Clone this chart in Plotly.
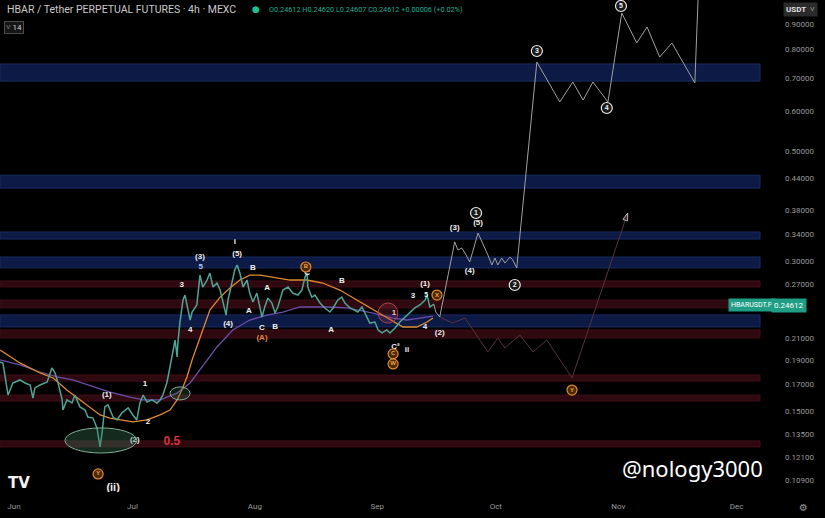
import numpy as np
import pandas as pd
import plotly.graph_objects as go

START = pd.Timestamp("2025-06-01")  # day 0 of the day-offset arrays below


def to_dates(days):
    return [START + pd.Timedelta(days=float(d)) for d in days]


# ---------------- data (day offsets from 2025-06-01, prices in USDT) ----------------
price_days = [-3.5, -2.8, -1.5, -0.3, 1.5, 2.8, 4.1, 4.8, 5.3, 6.6, 8.4, 9.6, 10.4, 11.1, 12.2, 12.4, 13.4, 14.7,
              15.4, 16.7, 18.0, 18.7, 20.0, 21.0, 21.8, 22.3, 23.0, 23.8, 25.1, 26.1, 27.3, 28.9, 30.1, 31.1, 31.9,
              32.7, 33.7, 34.9, 36.2, 37.0, 37.7, 38.7, 39.5, 40.3, 40.8, 41.3, 41.5, 42.0, 42.8, 43.3, 44.1, 44.6,
              45.1, 46.3, 47.1, 47.8, 48.9, 49.6, 50.4, 51.4, 52.2, 52.9, 53.7, 54.2, 55.2, 55.9, 56.5, 57.2, 58.0,
              59.0, 59.7, 60.5, 61.5, 62.8, 63.5, 64.3, 65.3, 66.1, 66.8, 68.1, 69.4, 70.6, 71.9, 72.9, 73.7, 74.2,
              74.4, 75.4, 76.2, 77.5, 78.7, 80.0, 80.8, 82.0, 83.0, 83.8, 85.1, 86.3, 87.1, 88.1, 89.4, 90.1, 91.4,
              92.2, 93.2, 94.4, 95.2, 96.5, 97.7, 99.0, 100.3, 101.5, 102.8, 104.1, 104.6, 105.3, 106.3]
price_vals = [0.1883, 0.1874, 0.1615, 0.1708, 0.1732, 0.1708, 0.1692, 0.1593, 0.1669, 0.1692, 0.1716, 0.1831,
              0.1789, 0.1716, 0.1579, 0.1507, 0.1579, 0.1557, 0.1615, 0.1529, 0.1507, 0.1459, 0.1452, 0.1387,
              0.1270, 0.1355, 0.1529, 0.1543, 0.1459, 0.1439, 0.1486, 0.1522, 0.1473, 0.1439, 0.1557, 0.1615,
              0.1564, 0.1579, 0.1557, 0.1579, 0.1615, 0.1708, 0.1839, 0.1990, 0.2084, 0.1927, 0.2055, 0.2254,
              0.2508, 0.2566, 0.2394, 0.2286, 0.2372, 0.2451, 0.2815, 0.2663, 0.2751, 0.2841, 0.2663, 0.2713,
              0.2626, 0.2473, 0.2339, 0.2508, 0.2713, 0.2881, 0.2949, 0.2841, 0.2663, 0.2751, 0.2590, 0.2485,
              0.2590, 0.2318, 0.2428, 0.2530, 0.2473, 0.2361, 0.2428, 0.2626, 0.2663, 0.2590, 0.2566, 0.2626,
              0.2789, 0.2841, 0.2663, 0.2542, 0.2566, 0.2473, 0.2417, 0.2372, 0.2417, 0.2508, 0.2542, 0.2473,
              0.2417, 0.2394, 0.2372, 0.2428, 0.2318, 0.2254, 0.2265, 0.2183, 0.2153, 0.2183, 0.2153, 0.2203,
              0.2265, 0.2318, 0.2372, 0.2417, 0.2451, 0.2508, 0.2566, 0.2428, 0.2461]

ema_days = [-3.5, 1.5, 6.6, 9.9, 13.4, 16.7, 19.2, 21.8, 24.3, 26.8, 30.1, 33.7, 37.0, 39.5, 41.3, 42.5, 43.8,
            45.1, 47.1, 49.6, 52.2, 54.7, 57.2, 59.7, 62.3, 66.6, 69.9, 74.2, 78.2, 82.5, 86.8, 91.9, 95.2, 98.5,
            102.0, 104.6, 106.1]
ema_vals = [0.1990, 0.1874, 0.1789, 0.1748, 0.1653, 0.1579, 0.1522, 0.1473, 0.1452, 0.1439, 0.1426, 0.1439,
            0.1473, 0.1507, 0.1579, 0.1653, 0.1756, 0.1900, 0.2103, 0.2394, 0.2542, 0.2651, 0.2751, 0.2815,
            0.2815, 0.2776, 0.2751, 0.2751, 0.2713, 0.2626, 0.2508, 0.2372, 0.2286, 0.2213, 0.2213, 0.2265, 0.2307]

sma_days = [-3.5, 1.5, 6.6, 10.9, 14.9, 20.0, 24.3, 29.4, 32.7, 37.0, 41.3, 44.6, 47.1, 51.4, 55.4, 59.7, 64.1,
            68.1, 72.4, 79.2, 84.3, 90.9, 95.9, 99.5, 102.8, 106.1]
sma_vals = [0.1900, 0.1857, 0.1797, 0.1756, 0.1732, 0.1677, 0.1638, 0.1600, 0.1579, 0.1579, 0.1630, 0.1708,
            0.1814, 0.2018, 0.2183, 0.2286, 0.2339, 0.2372, 0.2428, 0.2428, 0.2417, 0.2361, 0.2307, 0.2286,
            0.2307, 0.2328]

bull_days = [106.3, 106.8, 107.8, 111.6, 112.4, 113.4, 114.2, 115.4, 117.5, 118.7, 120.0, 121.0, 121.8, 122.5,
             123.5, 124.3, 125.6, 126.3, 127.3, 132.4, 138.2, 141.5, 144.1, 146.6, 150.4, 153.9, 157.7, 160.3,
             163.5, 166.6, 172.4, 173.4]
bull_vals = [0.2461, 0.2372, 0.2318, 0.3281, 0.3161, 0.3190, 0.3117, 0.2990, 0.3420, 0.3265, 0.3089, 0.2949,
             0.3046, 0.2949, 0.3046, 0.2976, 0.3060, 0.3018, 0.2908, 0.7549, 0.6272, 0.6881, 0.6330, 0.6881,
             0.6272, 0.9470, 0.8243, 0.8876, 0.7725, 0.8243, 0.6849, 1.1030]

bear_days = [107.8, 111.1, 114.2, 120.0, 122.5, 124.3, 128.1, 131.4, 134.9, 141.3, 155.4]
bear_vals = [0.2318, 0.2254, 0.2307, 0.1972, 0.2104, 0.2008, 0.2133, 0.1972, 0.2084, 0.1748, 0.3752]

# support / resistance zones
blue_lo = [0.691, 0.421, 0.3326, 0.291, 0.2214]
blue_hi = [0.748, 0.447, 0.3436, 0.306, 0.234]
red_lo = [0.2664, 0.2417, 0.2103, 0.1723, 0.1571, 0.1270]
red_hi = [0.2739, 0.2508, 0.2183, 0.1772, 0.1615, 0.1306]

# wave labels
wl_text = ["(1)", "1", "2", "(2)", "3", "4", "(3)", "(4)", "i", "(5)", "B", "A", "A", "C", "B", "C", "B", "A",
           "1", "3", "(1)", "4", "(2)", "C²", "ii", "(3)", "(5)", "(4)"]
wl_day = [23.5, 33.2, 33.9, 30.6, 42.5, 44.6, 47.1, 54.2, 55.9, 56.5, 60.5, 64.1, 59.5, 62.8, 66.1, 74.2, 83.0,
          80.3, 96.2, 101.0, 104.1, 104.1, 107.8, 96.6, 99.5, 111.6, 117.5, 115.4]
wl_price = [0.1615, 0.1700, 0.1426, 0.1312, 0.2688, 0.2183, 0.3060, 0.2244, 0.3281, 0.3103, 0.2908, 0.2651,
            0.2383, 0.2203, 0.2213, 0.2841, 0.2738, 0.2183, 0.2361, 0.2554, 0.2700, 0.2213, 0.2153, 0.2016,
            0.1990, 0.3500, 0.3582, 0.2868]

small5_day = [104.4]
small5_price = [0.2562]

blue5_day = [47.3]
blue5_price = [0.2922]

ii_day = [25.1]
ii_price = [0.1050]

circ_text = ["1", "2", "3", "4", "5"]
circ_day = [117.0, 126.8, 132.4, 150.1, 153.7]
circ_price = [0.3752, 0.2688, 0.7942, 0.6100, 0.9782]

ocirc_text = ["Y", "B", "X", "C", "W", "Y"]
ocirc_day = [21.3, 73.9, 107.1, 96.0, 96.0, 141.3]
ocirc_price = [0.1121, 0.2922, 0.2566, 0.1954, 0.1865, 0.1653]

otext_day = [62.8]
otext_price = [0.2103]

half_day = [40.0]
half_price = [0.1300]

# ellipse marks (day0, day1, price0, price1)
ell_green = [12.9, 31.1, 0.1235, 0.1387]
ell_small = [39.5, 44.6, 0.1579, 0.1677]
ell_red = [92.2, 97.2, 0.2254, 0.2473]

y_ticks = [0.9, 0.8, 0.7, 0.6, 0.5, 0.44, 0.38, 0.34, 0.30, 0.27, 0.21, 0.19, 0.17, 0.15, 0.135, 0.121, 0.109]
month_ticks = ["2025-06-01", "2025-07-01", "2025-08-01", "2025-09-01", "2025-10-01", "2025-11-01", "2025-12-01"]
month_text = ["Jun", "Jul", "Aug", "Sep", "Oct", "Nov", "Dec"]
last_price = 0.24612

# ---------------- figure ----------------
fig = go.Figure()

shapes = []
for lo, hi in zip(blue_lo, blue_hi):
    shapes.append(dict(type="rect", xref="paper", yref="y", x0=0, x1=1, y0=lo, y1=hi,
                       fillcolor="#0d1a45", line=dict(color="#1a2b63", width=1), layer="below"))
for lo, hi in zip(red_lo, red_hi):
    shapes.append(dict(type="rect", xref="paper", yref="y", x0=0, x1=1, y0=lo, y1=hi,
                       fillcolor="#2e0910", line=dict(color="#3f0e17", width=1), layer="below"))

d = to_dates
shapes.append(dict(type="circle", xref="x", yref="y", x0=d([ell_green[0]])[0], x1=d([ell_green[1]])[0],
                   y0=ell_green[2], y1=ell_green[3], fillcolor="rgba(60,120,90,0.35)",
                   line=dict(color="#7fae93", width=1), layer="above"))
shapes.append(dict(type="circle", xref="x", yref="y", x0=d([ell_small[0]])[0], x1=d([ell_small[1]])[0],
                   y0=ell_small[2], y1=ell_small[3], fillcolor="rgba(60,120,90,0.25)",
                   line=dict(color="#7fae93", width=1), layer="above"))
shapes.append(dict(type="circle", xref="x", yref="y", x0=d([ell_red[0]])[0], x1=d([ell_red[1]])[0],
                   y0=ell_red[2], y1=ell_red[3], fillcolor="rgba(170,50,70,0.25)",
                   line=dict(color="#a8404f", width=1), layer="above"))

fig.add_trace(go.Scatter(x=d(sma_days), y=sma_vals, mode="lines", line=dict(color="#6a4ea8", width=1.3),
                         hoverinfo="skip"))
fig.add_trace(go.Scatter(x=d(ema_days), y=ema_vals, mode="lines", line=dict(color="#e08a30", width=1.3),
                         hoverinfo="skip"))
fig.add_trace(go.Scatter(x=d(price_days), y=price_vals, mode="lines", line=dict(color="#4ea596", width=1.5),
                         hoverinfo="skip"))
fig.add_trace(go.Scatter(x=d(bear_days), y=bear_vals, mode="lines+markers",
                         line=dict(color="#553340", width=1),
                         marker=dict(symbol="arrow", angleref="previous", color="#553340",
                                     size=[0] * (len(bear_days) - 1) + [8]),
                         hoverinfo="skip"))
fig.add_trace(go.Scatter(x=d(bull_days), y=bull_vals, mode="lines", line=dict(color="#a0a0a0", width=1),
                         hoverinfo="skip"))

lab_font = dict(family="Liberation Sans, Arial", size=8, color="#f0f0f0", weight="bold")
fig.add_trace(go.Scatter(x=d(wl_day), y=wl_price, mode="text", text=wl_text, textposition="middle center",
                         textfont=lab_font, hoverinfo="skip", cliponaxis=False))
fig.add_trace(go.Scatter(x=d(small5_day), y=small5_price, mode="text", text=["5"], textposition="middle center",
                         textfont=dict(family="Liberation Sans, Arial", size=7, color="#f0f0f0", weight="bold"),
                         hoverinfo="skip"))
fig.add_trace(go.Scatter(x=d(blue5_day), y=blue5_price, mode="text", text=["5"], textposition="middle center",
                         textfont=dict(family="Liberation Sans, Arial", size=8, color="#a9c6ef", weight="bold"),
                         hoverinfo="skip"))
fig.add_trace(go.Scatter(x=d(ii_day), y=ii_price, mode="text", text=["(ii)"], textposition="middle center",
                         textfont=dict(family="Liberation Sans, Arial", size=11, color="#f0f0f0", weight="bold"),
                         hoverinfo="skip"))
fig.add_trace(go.Scatter(x=d(circ_day), y=circ_price, mode="markers+text", text=circ_text,
                         textposition="middle center",
                         marker=dict(symbol="circle", size=11, color="#1a1a1a", line=dict(color="#e8e8e8", width=1.2)),
                         textfont=dict(family="Liberation Sans, Arial", size=7, color="#f0f0f0", weight="bold"),
                         hoverinfo="skip", cliponaxis=False))
fig.add_trace(go.Scatter(x=d(ocirc_day), y=ocirc_price, mode="markers+text", text=ocirc_text,
                         textposition="middle center",
                         marker=dict(symbol="circle", size=10, color="#4a2a05", line=dict(color="#e08a30", width=1.2)),
                         textfont=dict(family="Liberation Sans, Arial", size=6, color="#f0a040", weight="bold"),
                         hoverinfo="skip"))
fig.add_trace(go.Scatter(x=d(otext_day), y=otext_price, mode="text", text=["(A)"], textposition="middle center",
                         textfont=dict(family="Liberation Sans, Arial", size=8, color="#e08a30", weight="bold"),
                         hoverinfo="skip"))
fig.add_trace(go.Scatter(x=d(half_day), y=half_price, mode="text", text=["0.5"], textposition="middle center",
                         textfont=dict(family="Liberation Sans, Arial", size=12, color="#d8303c", weight="bold"),
                         hoverinfo="skip"))

W_PLOT, H_PLOT = 760.0, 492.0


def px(xp):
    return xp / W_PLOT


def py(yp):
    return 1 - yp / H_PLOT


annotations = [
    dict(x=px(5), y=py(9), text="HBAR / Tether PERPETUAL FUTURES · 4h · MEXC",
         font=dict(family="Roboto", size=10.5, color="#c9c9c9")),
    dict(x=px(250), y=py(9), text="●", font=dict(family="DejaVu Sans", size=9, color="#1fbf94")),
    dict(x=px(267), y=py(9), text="O0.24612 H0.24620 L0.24607 C0.24612 +0.00006 (+0.02%)",
         font=dict(family="Roboto", size=7.3, color="#22ab94")),
    dict(x=px(4), y=py(27), text="˅ 14", font=dict(family="Roboto", size=8, color="#d0d0d0"),
         bgcolor="#151515", bordercolor="#4a4a4a", borderwidth=1, borderpad=1),
    dict(x=px(783), y=py(9), text="<b>USDT</b>  ˅", font=dict(family="Roboto", size=8, color="#e0e0e0"),
         bgcolor="#2b2b2b", borderpad=2),
    dict(x=px(728), y=py(305), text="HBARUSDT.P", font=dict(family="Roboto", size=7, color="#ffffff"),
         bgcolor="#1f9e85", borderpad=2),
    dict(x=px(771), y=py(305), text=f"{last_price:.5f}", font=dict(family="Roboto", size=8, color="#ffffff"),
         bgcolor="#1f9e85", borderpad=2),
    dict(x=px(620), y=py(468), text="@nology3000", font=dict(family="Noto Sans", size=22, color="#ffffff")),
    dict(x=px(6), y=py(483), text="<b>TV</b>", font=dict(family="DejaVu Sans", size=15, color="#f2f2f2")),
    dict(x=px(797), y=py(507), text="⚙", font=dict(family="DejaVu Sans", size=10, color="#9a9a9a")),
]
for a in annotations:
    a.update(xref="paper", yref="paper", showarrow=False, xanchor="left", yanchor="middle")

x0 = START - pd.Timedelta(days=3.54)
x1 = START + pd.Timedelta(days=188.9)

fig.update_layout(
    width=825, height=518,
    margin=dict(l=0, r=65, t=0, b=26),
    paper_bgcolor="#000000", plot_bgcolor="#000000",
    showlegend=False,
    shapes=shapes,
    annotations=annotations,
    xaxis=dict(type="date", range=[x0, x1], tickvals=month_ticks, ticktext=month_text,
               showgrid=False, zeroline=False, showline=False, ticks="",
               tickfont=dict(family="Roboto", size=8, color="#9a9a9a"), ticklabelstandoff=8),
    yaxis=dict(type="log", side="right", range=[np.log10(0.1031), np.log10(1.0058)],
               tickvals=y_ticks, ticktext=[f"{v:.5f}" for v in y_ticks],
               showgrid=False, zeroline=False, showline=False, ticks="",
               tickfont=dict(family="Roboto", size=8, color="#9a9a9a"), ticklabelstandoff=24),
)

fig.write_html("out.html", config={"displayModeBar": False},
               post_script="document.body.style.margin='0';document.body.style.background='#000';")
